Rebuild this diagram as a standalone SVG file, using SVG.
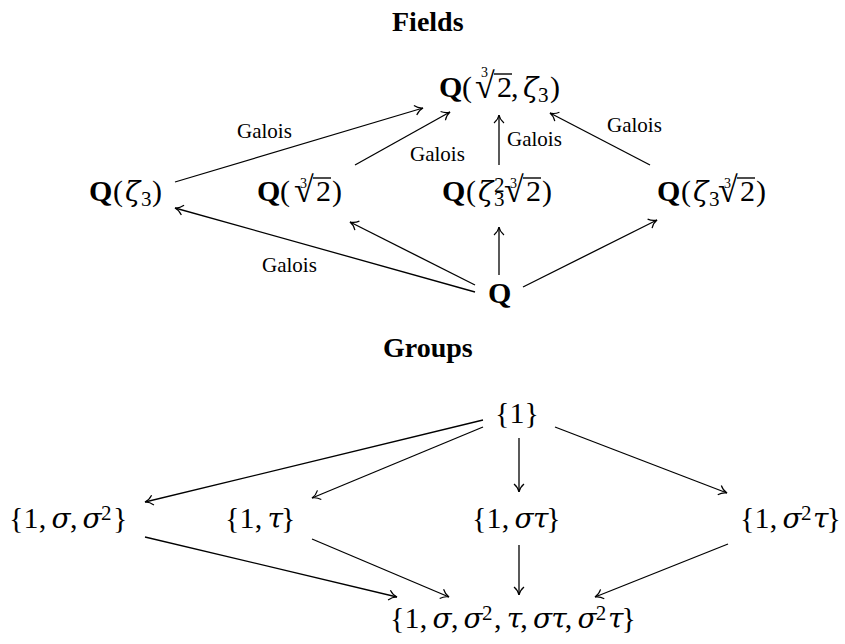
<svg xmlns="http://www.w3.org/2000/svg" width="845" height="644" viewBox="0 0 845 644">
<style>
text{font-family:"Liberation Serif","Times New Roman",serif;fill:#000}
.t{font-size:28px;font-weight:bold}
.n{font-size:30px}
.b{font-weight:bold}
.i{font-family:"DejaVu Serif",serif;font-style:italic;font-size:28px}
.s{font-size:21px}
.x{font-size:14px}
.r{font-size:36px}
.g{font-size:21px}
.e{stroke:#000;stroke-width:1.3;fill:none;marker-end:url(#ah)}
.v{stroke:#000;stroke-width:1.4}
</style>
<defs>
<marker id="ah" markerUnits="userSpaceOnUse" markerWidth="20" markerHeight="20" viewBox="-10 -10 20 20" refX="0" refY="0" orient="auto">
<path d="M-8,-5 C-5.5,-2 -2.5,-0.5 0,0 C-2.5,0.5 -5.5,2 -8,5" stroke="#000" stroke-width="1.2" fill="none"/>
</marker>
</defs>
<text class="t" x="392" y="31">Fields</text>
<text class="t" x="383" y="357">Groups</text>
<g id="connectors">
<line class="e" x1="175" y1="182" x2="423" y2="108"/>
<line class="e" x1="355" y1="165" x2="450" y2="112"/>
<line class="e" x1="499" y1="165" x2="499" y2="115"/>
<line class="e" x1="650" y1="165" x2="550" y2="113"/>
<line class="e" x1="475" y1="292" x2="175" y2="208"/>
<line class="e" x1="475" y1="285" x2="350" y2="222"/>
<line class="e" x1="499" y1="275" x2="499" y2="227"/>
<line class="e" x1="523" y1="287" x2="657" y2="220"/>
<line class="e" x1="483" y1="420" x2="145" y2="502"/>
<line class="e" x1="483" y1="427" x2="312" y2="498"/>
<line class="e" x1="519" y1="438" x2="519" y2="492"/>
<line class="e" x1="555" y1="427" x2="727" y2="493"/>
<line class="e" x1="145" y1="537" x2="397" y2="597"/>
<line class="e" x1="312" y1="539" x2="449" y2="597"/>
<line class="e" x1="519" y1="545" x2="519" y2="595"/>
<line class="e" x1="728" y1="544" x2="595" y2="597"/>
<text class="g" x="237" y="138">Galois</text>
<text class="g" x="410" y="161">Galois</text>
<text class="g" x="507" y="146">Galois</text>
<text class="g" x="607" y="132">Galois</text>
<text class="g" x="262" y="272">Galois</text>
</g>
<g id="n-top">
<text class="n" y="97"><tspan class="b" x="439">Q</tspan><tspan x="462">(</tspan><tspan class="x" x="481" y="77">3</tspan><tspan class="r" x="475" y="98">√</tspan><tspan x="497" y="97">2</tspan><tspan x="511">,</tspan><tspan class="i" x="523">ζ</tspan><tspan class="s" x="538" y="102">3</tspan><tspan x="550" y="97">)</tspan></text>
<line class="v" x1="494" y1="74" x2="512" y2="74"/>
</g>
<g id="n-z3">
<text class="n" y="201"><tspan class="b" x="89">Q</tspan><tspan x="113">(</tspan><tspan class="i" x="125">ζ</tspan><tspan class="s" x="141" y="206">3</tspan><tspan x="152" y="201">)</tspan></text>
</g>
<g id="n-cbrt">
<text class="n" y="201"><tspan class="b" x="257">Q</tspan><tspan x="280">(</tspan><tspan class="x" x="300" y="188">3</tspan><tspan class="r" x="294" y="202">√</tspan><tspan x="316" y="201">2</tspan><tspan x="332">)</tspan></text>
<line class="v" x1="313" y1="178" x2="331" y2="178"/>
</g>
<g id="n-z32">
<text class="n" y="201"><tspan class="b" x="442">Q</tspan><tspan x="466">(</tspan><tspan class="i" x="478">ζ</tspan><tspan class="s" x="494" y="192">2</tspan><tspan class="s" x="494" y="206">3</tspan><tspan class="x" x="510" y="188">3</tspan><tspan class="r" x="504" y="202">√</tspan><tspan x="526" y="201">2</tspan><tspan x="542">)</tspan></text>
<line class="v" x1="523" y1="178" x2="541" y2="178"/>
</g>
<g id="n-z3c">
<text class="n" y="201"><tspan class="b" x="657">Q</tspan><tspan x="681">(</tspan><tspan class="i" x="693">ζ</tspan><tspan class="s" x="709" y="206">3</tspan><tspan class="x" x="724" y="188">3</tspan><tspan class="r" x="718" y="202">√</tspan><tspan x="740" y="201">2</tspan><tspan x="756">)</tspan></text>
<line class="v" x1="737" y1="178" x2="755" y2="178"/>
</g>
<g id="n-Q">
<text class="n b" x="488" y="303">Q</text>
</g>
<g id="n-1">
<text class="n" y="423"><tspan x="495">{</tspan><tspan x="509.6">1</tspan><tspan x="524.6">}</tspan></text>
</g>
<g id="n-s">
<text class="n" y="528"><tspan x="9">{</tspan><tspan x="23.6">1</tspan><tspan x="38.8">,</tspan><tspan class="i" x="51.5">σ</tspan><tspan x="69.9">,</tspan><tspan class="i" x="82.6">σ</tspan><tspan class="s" x="100.9" y="520">2</tspan><tspan x="113.1" y="528">}</tspan></text>
</g>
<g id="n-t">
<text class="n" y="528"><tspan x="225">{</tspan><tspan x="239.6">1</tspan><tspan x="254.8">,</tspan><tspan class="i" x="267.5">τ</tspan><tspan x="280.9">}</tspan></text>
</g>
<g id="n-st">
<text class="n" y="528"><tspan x="472">{</tspan><tspan x="486.6">1</tspan><tspan x="501.8">,</tspan><tspan class="i" x="514.5">σ</tspan><tspan class="i" x="532.9">τ</tspan><tspan x="546.3">}</tspan></text>
</g>
<g id="n-s2t">
<text class="n" y="528"><tspan x="740">{</tspan><tspan x="754.6">1</tspan><tspan x="769.8">,</tspan><tspan class="i" x="782.5">σ</tspan><tspan class="s" x="800.9" y="520">2</tspan><tspan class="i" x="813.1" y="528">τ</tspan><tspan x="826.5">}</tspan></text>
</g>
<g id="n-all">
<text class="n" y="628"><tspan x="390">{</tspan><tspan x="404.6">1</tspan><tspan x="419.8">,</tspan><tspan class="i" x="432.5">σ</tspan><tspan x="450.9">,</tspan><tspan class="i" x="463.6">σ</tspan><tspan class="s" x="481.9" y="620">2</tspan><tspan x="494.1" y="628">,</tspan><tspan class="i" x="506.8">τ</tspan><tspan x="520.2">,</tspan><tspan class="i" x="532.9">σ</tspan><tspan class="i" x="551.3">τ</tspan><tspan x="564.7">,</tspan><tspan class="i" x="577.4">σ</tspan><tspan class="s" x="595.8" y="620">2</tspan><tspan class="i" x="608" y="628">τ</tspan><tspan x="621.4">}</tspan></text>
</g>
</svg>
